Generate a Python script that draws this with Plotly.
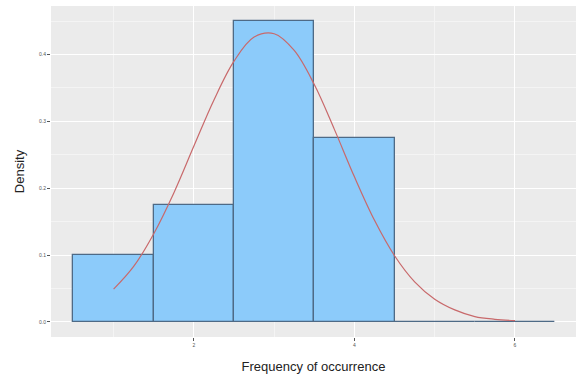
import plotly.graph_objects as go

# Histogram bins (centre, density) for frequency of occurrence
bin_centers = [1, 2, 3, 4, 5, 6]
bin_density = [0.1, 0.175, 0.45, 0.275, 0.0, 0.0]

# Fitted density curve
curve_x = [1.0, 1.25, 1.5, 1.75, 2.0, 2.25, 2.5, 2.75, 3.0, 3.25, 3.5,
           3.75, 4.0, 4.25, 4.5, 4.75, 5.0, 5.25, 5.5, 5.75, 6.0]
curve_y = [0.049, 0.083, 0.132, 0.193, 0.263, 0.332, 0.390, 0.426, 0.431,
           0.406, 0.355, 0.288, 0.217, 0.152, 0.099, 0.060, 0.034, 0.018,
           0.008, 0.004, 0.002]

x_ticks = [2, 4, 6]
y_ticks = [0.0, 0.1, 0.2, 0.3, 0.4]
y_tick_text = ["0.0", "0.1", "0.2", "0.3", "0.4"]

fig = go.Figure()
fig.add_trace(go.Bar(
    x=bin_centers, y=bin_density, width=1,
    marker=dict(color="#8CCBFA", line=dict(color="#4E6A86", width=1.3)),
    showlegend=False,
))
fig.add_trace(go.Scatter(
    x=curve_x, y=curve_y, mode="lines", line_shape="spline",
    line=dict(color="#C8696B", width=1.2), showlegend=False,
))

fig.update_layout(
    width=576, height=381,
    margin=dict(l=51, r=0, t=6, b=44),
    paper_bgcolor="white", plot_bgcolor="#EBEBEB",
    font=dict(family="Liberation Sans, Arial, sans-serif", color="#222"),
    bargap=0,
)
fig.update_xaxes(
    range=[0.22, 6.76], tickvals=x_ticks, ticktext=[str(v) for v in x_ticks],
    tickfont=dict(size=5, color="#555"), ticks="outside", ticklen=3,
    tickcolor="#555", showgrid=True, gridcolor="white", gridwidth=1.1,
    minor=dict(dtick=2, tick0=1, showgrid=True, gridcolor="#F4F4F4", gridwidth=0.6),
    zeroline=False, showline=False,
    title=dict(text="Frequency of occurrence", font=dict(size=13), standoff=14),
)
fig.update_yaxes(
    range=[-0.0225, 0.4725], tickvals=y_ticks, ticktext=y_tick_text,
    tickfont=dict(size=5, color="#555"), ticks="outside", ticklen=3,
    tickcolor="#555", showgrid=True, gridcolor="white", gridwidth=1.1,
    minor=dict(dtick=0.1, tick0=0.05, showgrid=True, gridcolor="#F4F4F4", gridwidth=0.6),
    zeroline=False, showline=False,
    title=dict(text="Density", font=dict(size=13), standoff=11),
)

fig.write_html("out.html")
